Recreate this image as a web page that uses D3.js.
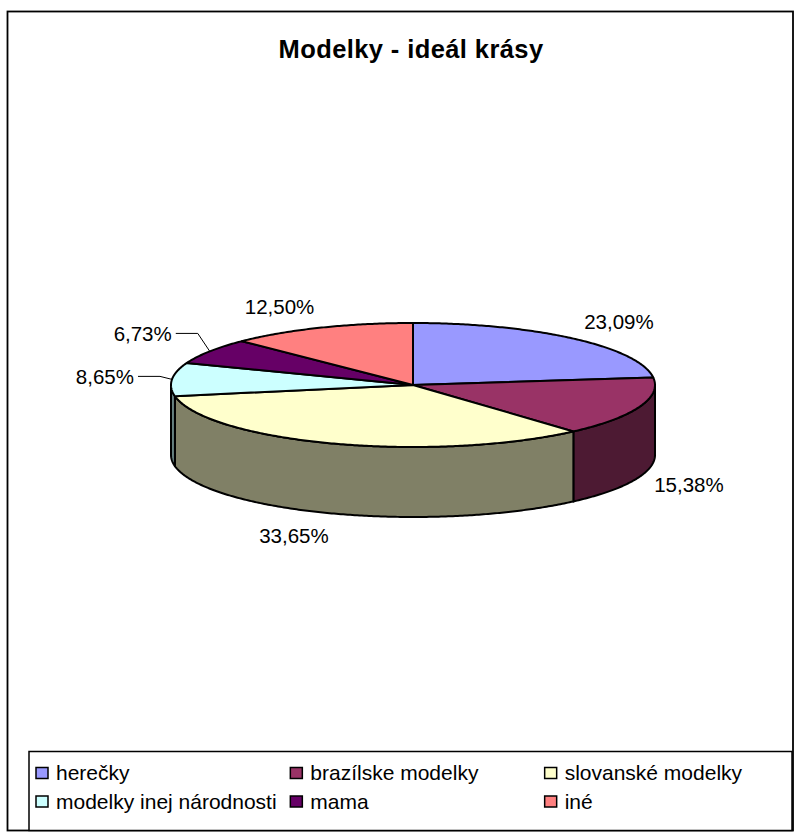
<!DOCTYPE html>
<html>
<head>
<meta charset="utf-8">
<script src="https://cdn.jsdelivr.net/npm/d3@7/dist/d3.min.js"></script>
<style>
  html, body { margin: 0; padding: 0; background: #fff; }
  svg { display: block; font-family: "Liberation Sans", Arial, sans-serif; }
</style>
</head>
<body>
<svg id="chart" width="810" height="832"></svg>
<script>
// Survey: who is the ideal of beauty (share of answers, %)
const categories = ["herečky", "brazílske modelky", "slovanské modelky",
                    "modelky inej národnosti", "mama", "iné"];
const shares = [23.09, 15.38, 33.65, 8.65, 6.73, 12.50];
const sliceColors = ["#9999FF", "#993366", "#FFFFCC", "#CCFFFF", "#660066", "#FF8080"];
const titleText = "Modelky - ideál krásy";

const svg = d3.select("#chart");

// chart area frame
svg.append("rect")
  .attr("x", 7.5).attr("y", 11.5)
  .attr("width", 785.5).attr("height", 819)
  .attr("fill", "#fff").attr("stroke", "#000").attr("stroke-width", 1.8);

// title
svg.append("text")
  .attr("x", 411).attr("y", 58)
  .attr("text-anchor", "middle")
  .attr("font-size", 25.5).attr("font-weight", "bold")
  .attr("letter-spacing", 0.4)
  .text(titleText);

// tilted pie geometry
const cx = 413, cy = 385, rx = 242, ry = 62, depth = 70;
const pt = (a, dy = 0) => [cx + rx * Math.sin(a), cy - ry * Math.cos(a) + dy];

const arcs = d3.pie().sort(null).value(d => d)(shares);
const line = d3.line();

function arcPoints(a0, a1, dy = 0) {
  const n = Math.max(2, Math.ceil((a1 - a0) / 0.01));
  return d3.range(n + 1).map(i => pt(a0 + (a1 - a0) * i / n, dy));
}

const shade = c => {
  const r = d3.rgb(c);
  return d3.rgb(r.r * 0.5, r.g * 0.5, r.b * 0.5).formatHex();
};

const g = svg.append("g");

// front walls (visible between 90° and 270°)
arcs.forEach((a, i) => {
  const s = Math.max(a.startAngle, Math.PI / 2);
  const e = Math.min(a.endAngle, 3 * Math.PI / 2);
  if (e <= s) return;
  const pts = arcPoints(s, e).concat(arcPoints(s, e, depth).reverse());
  g.append("path")
    .attr("d", line(pts) + "Z")
    .attr("fill", shade(sliceColors[i]))
    .attr("stroke", "#000").attr("stroke-width", 2)
    .attr("stroke-linejoin", "round");
});

// top faces
arcs.forEach((a, i) => {
  const pts = [[cx, cy]].concat(arcPoints(a.startAngle, a.endAngle));
  g.append("path")
    .attr("d", line(pts) + "Z")
    .attr("fill", sliceColors[i])
    .attr("stroke", "#000").attr("stroke-width", 2)
    .attr("stroke-linejoin", "round");
});

// value labels
const loc = d3.formatLocale({ decimal: ",", thousands: " ", grouping: [3], currency: ["", ""] });
const fmt = v => loc.format(".2f")(v) + "%";
const labelFont = 20.5;

arcs.forEach((a, i) => {
  const m = (a.startAngle + a.endAngle) / 2;
  const s = Math.sin(m), c = Math.cos(m);
  const front = c < 0 ? depth : 0;
  const anchor = pt(m);
  const small = shares[i] < 10;
  let lx, ly;
  if (small) {
    lx = anchor[0] + Math.sign(s) * 38;
    ly = anchor[1] - 33 * c;
  } else {
    lx = cx + (rx + 16) * s;
    ly = cy - (ry + 23) * c + front;
  }
  const side = s >= 0 ? "start" : "end";
  svg.append("text")
    .attr("x", lx).attr("y", ly)
    .attr("dy", "0.35em")
    .attr("text-anchor", side)
    .attr("font-size", labelFont)
    .text(fmt(shares[i]));
  if (small) {
    // leader line: short horizontal run from the label, then into the slice
    const dir = Math.sign(s);
    const elbowX = anchor[0] + dir * 12;
    const pts = [[lx - dir * 4, ly], [elbowX, ly], anchor];
    svg.append("path")
      .attr("d", line(pts))
      .attr("fill", "none")
      .attr("stroke", "#000").attr("stroke-width", 1);
  }
});

// legend
const lg = { x: 29, y: 751.5, w: 763, h: 79 };
svg.append("rect")
  .attr("x", lg.x).attr("y", lg.y).attr("width", lg.w).attr("height", lg.h)
  .attr("fill", "#fff").attr("stroke", "#000").attr("stroke-width", 1.5);

const colW = lg.w / 3;
const rowY = [773, 801.5];
categories.forEach((name, i) => {
  const col = i % 3, row = Math.floor(i / 3);
  const x = lg.x + 7 + col * colW;
  const y = rowY[row];
  svg.append("rect")
    .attr("x", x).attr("y", y - 5.5).attr("width", 12).attr("height", 11)
    .attr("fill", sliceColors[i]).attr("stroke", "#000").attr("stroke-width", 1.5);
  svg.append("text")
    .attr("x", x + 20).attr("y", y)
    .attr("dy", "0.35em")
    .attr("font-size", 21)
    .text(name);
});
</script>
</body>
</html>
